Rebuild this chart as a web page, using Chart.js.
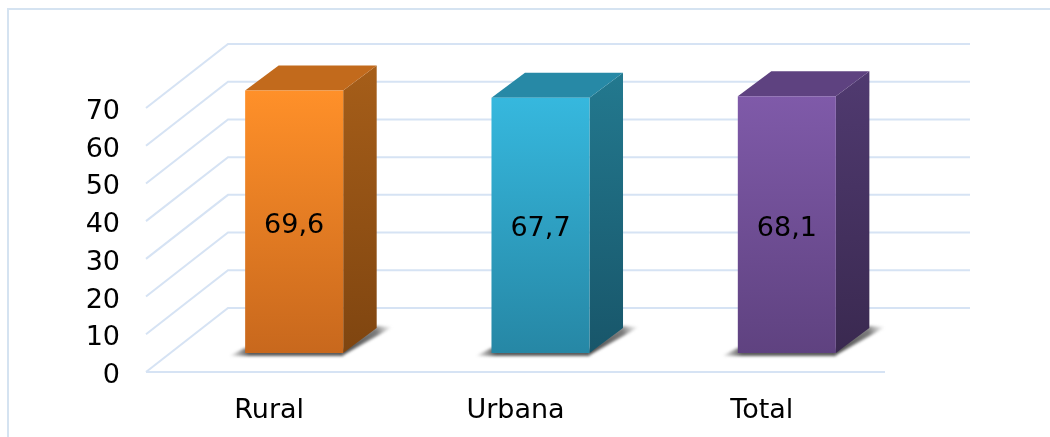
<!DOCTYPE html>
<html><head><meta charset="utf-8">
<script src="https://cdn.jsdelivr.net/npm/chart.js@4"></script>
<style>html,body{margin:0;padding:0;background:#fff;overflow:hidden}canvas{display:block}</style>
</head><body><canvas id="c" width="1050" height="437"></canvas>
<script>
const categories = ['Rural', 'Urbana', 'Total'];
const values = [69.6, 67.7, 68.1];
const valueLabels = ['69,6', '67,7', '68,1'];
const frontTop = ['#ff9029', '#36b8de', '#7f5aa9'];
const frontBottom = ['#c8681d', '#2687a5', '#5f4280'];
const sideTop = ['#a65e19', '#23798f', '#503a70'];
const sideBottom = ['#7f4510', '#18566a', '#3a2950'];
const topFace = ['#c26a1c', '#2789a6', '#5e4280'];
const gridColor = '#d6e3f4';
const FONT = '"DejaVu Sans", Verdana, sans-serif';
const wall = {dx: 82, dy: -64, rightExtra: 3};
const barOff = {dx: 25, dy: -19};
const depth = {dx: 33.5, dy: -25};

function grad(g, y0, y1, a, b) {
  const l = g.createLinearGradient(0, y0, 0, y1);
  l.addColorStop(0, a); l.addColorStop(1, b);
  return l;
}
function poly(g, pts) {
  g.beginPath(); pts.forEach((p, i) => i ? g.lineTo(p[0], p[1]) : g.moveTo(p[0], p[1])); g.closePath();
}
const threeD = {
  id: 'threeD',
  beforeDraw(chart) {
    const g = chart.ctx;
    g.save();
    g.fillStyle = '#fff'; g.fillRect(0, 0, chart.width, chart.height);
    g.strokeStyle = '#d5e3f1'; g.lineWidth = 2;
    g.strokeRect(8, 9, chart.width + 20, chart.height + 20);
    g.restore();
  },
  beforeDatasetsDraw(chart) {
    const g = chart.ctx, y = chart.scales.y, a = chart.chartArea;
    g.save();
    g.strokeStyle = gridColor; g.lineWidth = 2;
    y.ticks.forEach(t => {
      const p = y.getPixelForValue(t.value);
      g.beginPath();
      g.moveTo(a.left, p);
      g.lineTo(a.left + wall.dx, p + wall.dy);
      g.lineTo(a.right + wall.dx + wall.rightExtra, p + wall.dy);
      g.stroke();
    });
    const p0 = y.getPixelForValue(0);
    g.beginPath(); g.moveTo(a.left, p0); g.lineTo(a.right, p0); g.stroke();

    const meta = chart.getDatasetMeta(0);
    meta.data.forEach((bar, i) => {
      const w = bar.width, l = bar.x - w / 2 + barOff.dx, r = l + w;
      const t = bar.y + barOff.dy, b = p0 + barOff.dy;
      // ground shadow
      g.save();
      g.filter = 'blur(1.5px)';
      const sh = g.createLinearGradient(l - 16, 0, l + 4, 0);
      sh.addColorStop(0, 'rgba(60,60,60,0)'); sh.addColorStop(1, 'rgba(60,60,60,.85)');
      g.fillStyle = sh;
      poly(g, [[l - 16, b + 3], [r, b + 3], [r, b - 4], [l, b - 5]]);
      g.fill();
      const sr = g.createLinearGradient(r, b, r + depth.dx + 16, b + depth.dy);
      sr.addColorStop(0, 'rgba(50,50,50,.9)'); sr.addColorStop(.7, 'rgba(80,80,80,.75)'); sr.addColorStop(1, 'rgba(120,120,120,0)');
      g.fillStyle = sr;
      poly(g, [[r, b + 2], [r + depth.dx + 16, b + depth.dy - 1], [r + depth.dx, b + depth.dy - 2], [r - 2, b - 2]]);
      g.fill();
      g.restore();
      // side face
      g.fillStyle = grad(g, t + depth.dy, b, sideTop[i], sideBottom[i]);
      poly(g, [[r, t], [r + depth.dx, t + depth.dy], [r + depth.dx, b + depth.dy], [r, b]]);
      g.fill();
      // top face
      g.fillStyle = topFace[i];
      poly(g, [[l, t], [l + depth.dx, t + depth.dy], [r + depth.dx, t + depth.dy], [r, t]]);
      g.fill();
    });
    g.restore();
    g.save();
    g.translate(barOff.dx, barOff.dy);
  },
  afterDatasetsDraw(chart) {
    const g = chart.ctx;
    g.restore();
    const meta = chart.getDatasetMeta(0), p0 = chart.scales.y.getPixelForValue(0);
    g.save();
    g.fillStyle = '#000'; g.font = '27px ' + FONT;
    g.textAlign = 'center'; g.textBaseline = 'middle';
    meta.data.forEach((bar, i) => {
      const cy = (bar.y + p0) / 2 + barOff.dy;
      g.fillText(valueLabels[i], bar.x + barOff.dx, cy + 4);
    });
    g.restore();
  }
};

new Chart(document.getElementById('c'), {
  type: 'bar',
  data: {
    labels: categories,
    datasets: [{
      data: values,
      clip: false,
      categoryPercentage: 1,
      barPercentage: 0.398,
      borderWidth: 0,
      backgroundColor(ctx) {
        const c = ctx.chart;
        if (!c.chartArea) return frontTop[ctx.dataIndex];
        const y = c.scales.y;
        return grad(c.ctx, y.getPixelForValue(values[ctx.dataIndex]), y.getPixelForValue(0),
          frontTop[ctx.dataIndex], frontBottom[ctx.dataIndex]);
      }
    }]
  },
  plugins: [threeD],
  options: {
    responsive: false,
    animation: false,
    events: [],
    layout: {padding: {left: 0, top: 108, right: 165, bottom: 0}},
    plugins: {legend: {display: false}, tooltip: {enabled: false}},
    scales: {
      x: {
        grid: {display: false}, border: {display: false},
        ticks: {color: '#000', font: {family: FONT, size: 27}, padding: 15, maxRotation: 0},
        afterFit(s) { s.height = 65; }
      },
      y: {
        min: 0, max: 70,
        grid: {display: false}, border: {display: false},
        ticks: {stepSize: 10, color: '#000', font: {family: FONT, size: 27}, padding: 18, labelOffset: 4},
        afterFit(s) { s.width = 146; }
      }
    }
  }
});
</script></body></html>
